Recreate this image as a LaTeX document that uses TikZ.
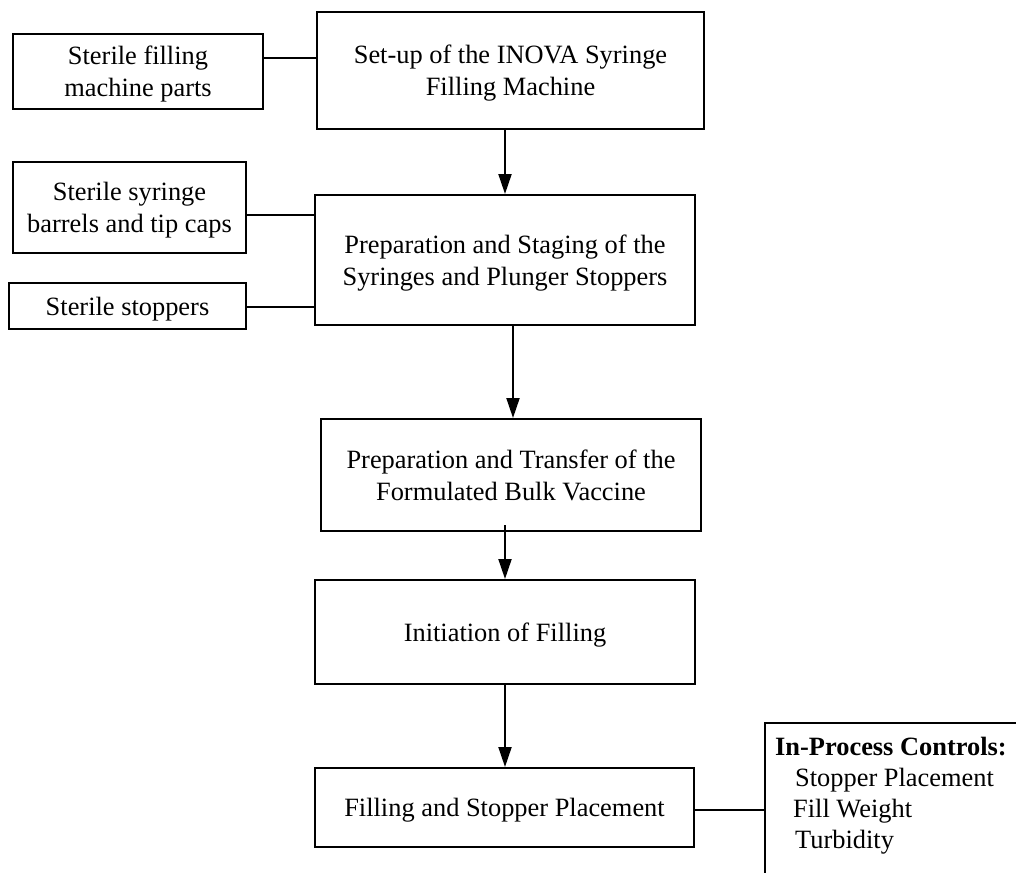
\documentclass[tikz,border=0pt]{standalone}
\usepackage{fontspec}
\setmainfont{Liberation Serif}
\usetikzlibrary{arrows.meta}

\tikzset{
  stepbox/.style={draw, line width=2pt, align=center, inner sep=0pt,
    font=\fontsize{26.4}{32}\selectfont, text depth=0pt},
  link/.style={line width=2pt},
  flow/.style={line width=2pt, -{Triangle[length=20pt,width=13pt]}},
}

\begin{document}
\begin{tikzpicture}[x=1pt, y=-1pt]
  \useasboundingbox (0,0) rectangle (1016,872);
  \fill[white] (0,0) rectangle (1016,872);

  % inputs on the left
  \node[stepbox, minimum width=250pt, minimum height=75pt] (parts) at (138,71.5)
    {Sterile filling\\machine parts};
  \node[stepbox, minimum width=233pt, minimum height=91pt] (barrels) at (129.5,207.5)
    {Sterile syringe\\barrels and tip caps};
  \node[stepbox, minimum width=237pt, minimum height=46pt] (stoppers) at (127.5,306)
    {Sterile stoppers};

  % main process steps
  \node[stepbox, minimum width=387pt, minimum height=117pt] (setup) at (510.5,70.5)
    {Set-up of the INOVA Syringe\\Filling Machine};
  \node[stepbox, minimum width=380pt, minimum height=130pt] (prep) at (505,260)
    {Preparation and Staging of the\\Syringes and Plunger Stoppers};
  \node[stepbox, minimum width=380pt, minimum height=112pt] (transfer) at (511,475)
    {Preparation and Transfer of the\\Formulated Bulk Vaccine};
  \node[stepbox, minimum width=380pt, minimum height=104pt] (init) at (505,632)
    {Initiation of Filling};
  \node[stepbox, minimum width=379pt, minimum height=79pt] (fill) at (504.5,807.5)
    {Filling and Stopper Placement};

  % controls box, running off the lower right edge
  \begin{scope}
    \clip (0,0) rectangle (1016,872);
    \node[stepbox, anchor=north west, minimum width=300pt, minimum height=200pt]
      (ipc) at (764,722) {};
  \end{scope}
  \node[anchor=north west, inner sep=0pt, align=left,
        font=\fontsize{26.4}{31}\selectfont] (ipctext) at (775,737)
    {\textbf{In-Process Controls:}\\
     \hspace*{20pt}Stopper Placement\\
     \hspace*{18pt}Fill Weight\\
     \hspace*{20pt}Turbidity};

  % side connectors
  \draw[link] ([yshift=13.5pt]parts.east) -- ([yshift=13.5pt]parts.east -| setup.west);
  \draw[link] ([yshift=-7.5pt]barrels.east) -- ([yshift=-7.5pt]barrels.east -| prep.west);
  \draw[link] ([yshift=-1pt]stoppers.east) -- ([yshift=-1pt]stoppers.east -| prep.west);
  \draw[link] ([yshift=-2pt]fill.east) -- ([yshift=-2pt]fill.east -| ipc.west);

  % flow arrows
  \draw[flow] (setup.south -| prep.north) -- (prep.north);
  \draw[flow] ([xshift=2pt]prep.south -| transfer.north) -- ([xshift=2pt]transfer.north);
  \draw[flow] ([yshift=7pt]transfer.south -| init.north) -- (init.north);
  \draw[flow] (init.south) -- (init.south |- fill.north);
\end{tikzpicture}
\end{document}
